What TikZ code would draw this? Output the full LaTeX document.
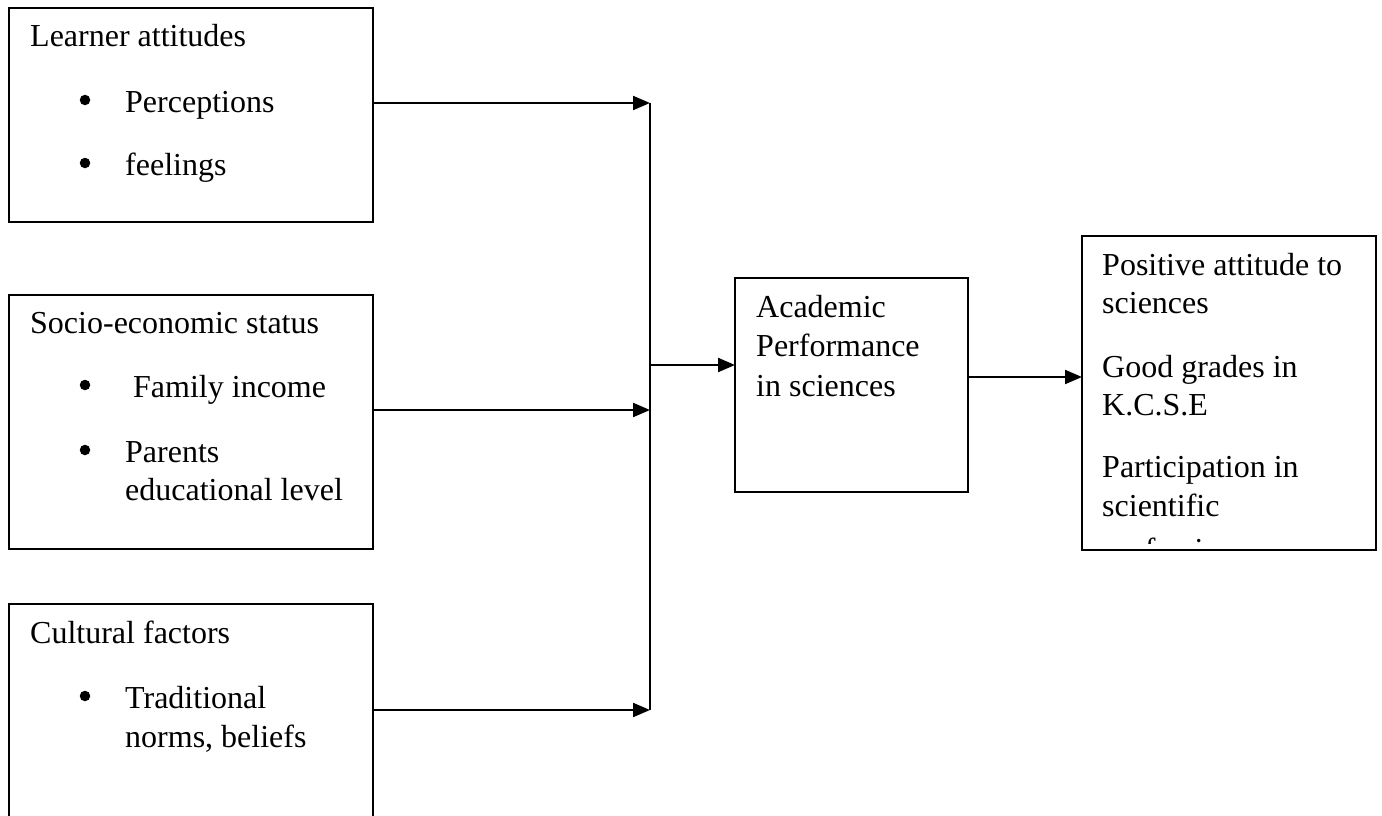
\documentclass[tikz,border=0pt]{standalone}
\usepackage{fontspec}
\setmainfont{Liberation Serif}
\usetikzlibrary{arrows.meta,calc}
\begin{document}
\begin{tikzpicture}[x=1pt,y=-1pt,
  box/.style={draw,line width=1.8pt,anchor=north west,inner sep=0,outer sep=0},
  txt/.style={anchor=base west,inner sep=0,font=\fontsize{32}{38}\selectfont},
  dot/.style={circle,fill,inner sep=0,minimum size=10.5pt},
  arr/.style={line width=2.2pt,-{Triangle[length=17pt,width=14pt]}},
  bus/.style={line width=1.7pt}]
\useasboundingbox (0,0) rectangle (1382,816);
% boxes
\node[box,minimum width=364pt,minimum height=214pt] (b1) at (9,8) {};
\node[box,minimum width=364pt,minimum height=254pt] (b2) at (9,295) {};
\node[box,minimum width=364pt,minimum height=240pt] (b3) at (9,604) {};
\node[box,minimum width=233pt,minimum height=214pt] (c) at (735,278) {};
\node[box,minimum width=294pt,minimum height=314pt] (r) at (1082,236) {};
% box 1 text
\node[txt] (t11) at (30,47) {Learner attitudes};
\node[dot] (u11) at (85,100) {};
\node[txt] (t12) at (125,112) {Perceptions};
\node[dot] (u12) at (85,163) {};
\node[txt] (t13) at (125,175) {feelings};
% box 2 text
\node[txt] (t21) at (30,333) {Socio-economic status};
\node[dot] (u21) at (85,385) {};
\node[txt] (t22) at (133,397) {Family income};
\node[dot] (u22) at (85,450) {};
\node[txt] (t23) at (125,462) {Parents};
\node[txt] (t24) at (125,500) {educational level};
% box 3 text
\node[txt] (t31) at (30,643) {Cultural factors};
\node[dot] (u31) at (85,696) {};
\node[txt] (t32) at (125,708) {Traditional};
\node[txt] (t33) at (125,747) {norms, beliefs};
% centre text
\node[txt] (tc1) at (756,317) {Academic};
\node[txt] (tc2) at (756,356) {Performance};
\node[txt] (tc3) at (756,396) {in sciences};
% right text (clipped)
\begin{scope}
\clip (1083,237) rectangle (1374,543);
\node[txt] (tr1) at (1102,275) {Positive attitude to};
\node[txt] (tr2) at (1102,313) {sciences};
\node[txt] (tr3) at (1102,377) {Good grades in};
\node[txt] (tr4) at (1102,415) {K.C.S.E};
\node[txt] (tr5) at (1102,477) {Participation in};
\node[txt] (tr6) at (1102,516) {scientific};
\node[txt] (tr7) at (1102,560) {professions};
\end{scope}
% connectors
\coordinate (j1) at (650,103);
\coordinate (j2) at (650,410);
\coordinate (j3) at (650,710);
\coordinate (jm) at (650,365);
\draw[arr] (j1 -| b1.east) -- (j1);
\draw[arr] (j2 -| b2.east) -- (j2);
\draw[arr] (j3 -| b3.east) -- (j3);
\draw[bus] (j1) -- (j3);
\draw[arr] (jm) -- (jm -| c.west);
\draw[arr] ([yshift=8pt]c.east) -- ([yshift=8pt]c.east -| r.west);
\end{tikzpicture}
\end{document}
